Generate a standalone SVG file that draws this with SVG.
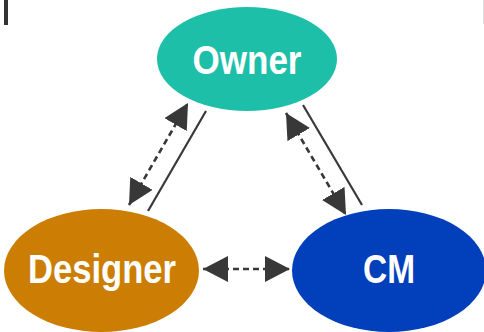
<svg xmlns="http://www.w3.org/2000/svg" width="484" height="332" viewBox="0 0 484 332">
  <style>
    .label { font-family: "Liberation Sans", Arial, sans-serif; font-weight: bold; font-size: 40px; fill: #ffffff; }
    .solid { stroke: #383838; stroke-width: 2.2; fill: none; }
    .dashed { stroke: #383838; stroke-width: 2.6; stroke-dasharray: 6 4; fill: none; }
  </style>
  <defs>
    <marker id="head" viewBox="0 0 25 26" refX="25" refY="13" markerWidth="25" markerHeight="26" markerUnits="userSpaceOnUse" orient="auto-start-reverse">
      <path d="M0,0 L25,13 L0,26 Z" fill="#383838"/>
    </marker>
  </defs>

  <rect width="484" height="332" fill="#ffffff"/>
  <!-- edge marks -->
  <rect x="4" y="0" width="4" height="25" fill="#333333"/>
  <rect x="483" y="0" width="1" height="24" fill="#dddddd"/>

  <g id="connectors">
    <!-- Owner / Designer -->
    <line class="solid" x1="206" y1="111" x2="148" y2="211"/>
    <line class="dashed" x1="129" y1="205" x2="188" y2="103" marker-start="url(#head)" marker-end="url(#head)"/>
    <!-- Owner / CM -->
    <line class="solid" x1="303" y1="105" x2="362" y2="205"/>
    <line class="dashed" x1="286" y1="113" x2="346" y2="215" marker-start="url(#head)" marker-end="url(#head)"/>
    <!-- Designer / CM -->
    <line class="dashed" x1="203" y1="269" x2="290" y2="269" marker-start="url(#head)" marker-end="url(#head)"/>
  </g>

  <g id="owner">
    <ellipse cx="247" cy="59" rx="90" ry="52" fill="#1ebfa8"/>
    <text class="label" x="247" y="74" text-anchor="middle" textLength="109" lengthAdjust="spacingAndGlyphs">Owner</text>
  </g>
  <g id="designer">
    <ellipse cx="101.5" cy="270.5" rx="97.5" ry="61.5" fill="#cc7e04"/>
    <text class="label" x="102" y="283" text-anchor="middle" textLength="148" lengthAdjust="spacingAndGlyphs">Designer</text>
  </g>
  <g id="cm">
    <ellipse cx="389" cy="270.5" rx="97" ry="61.5" fill="#023fba"/>
    <text class="label" x="389" y="283" text-anchor="middle" textLength="52" lengthAdjust="spacingAndGlyphs">CM</text>
  </g>
</svg>
